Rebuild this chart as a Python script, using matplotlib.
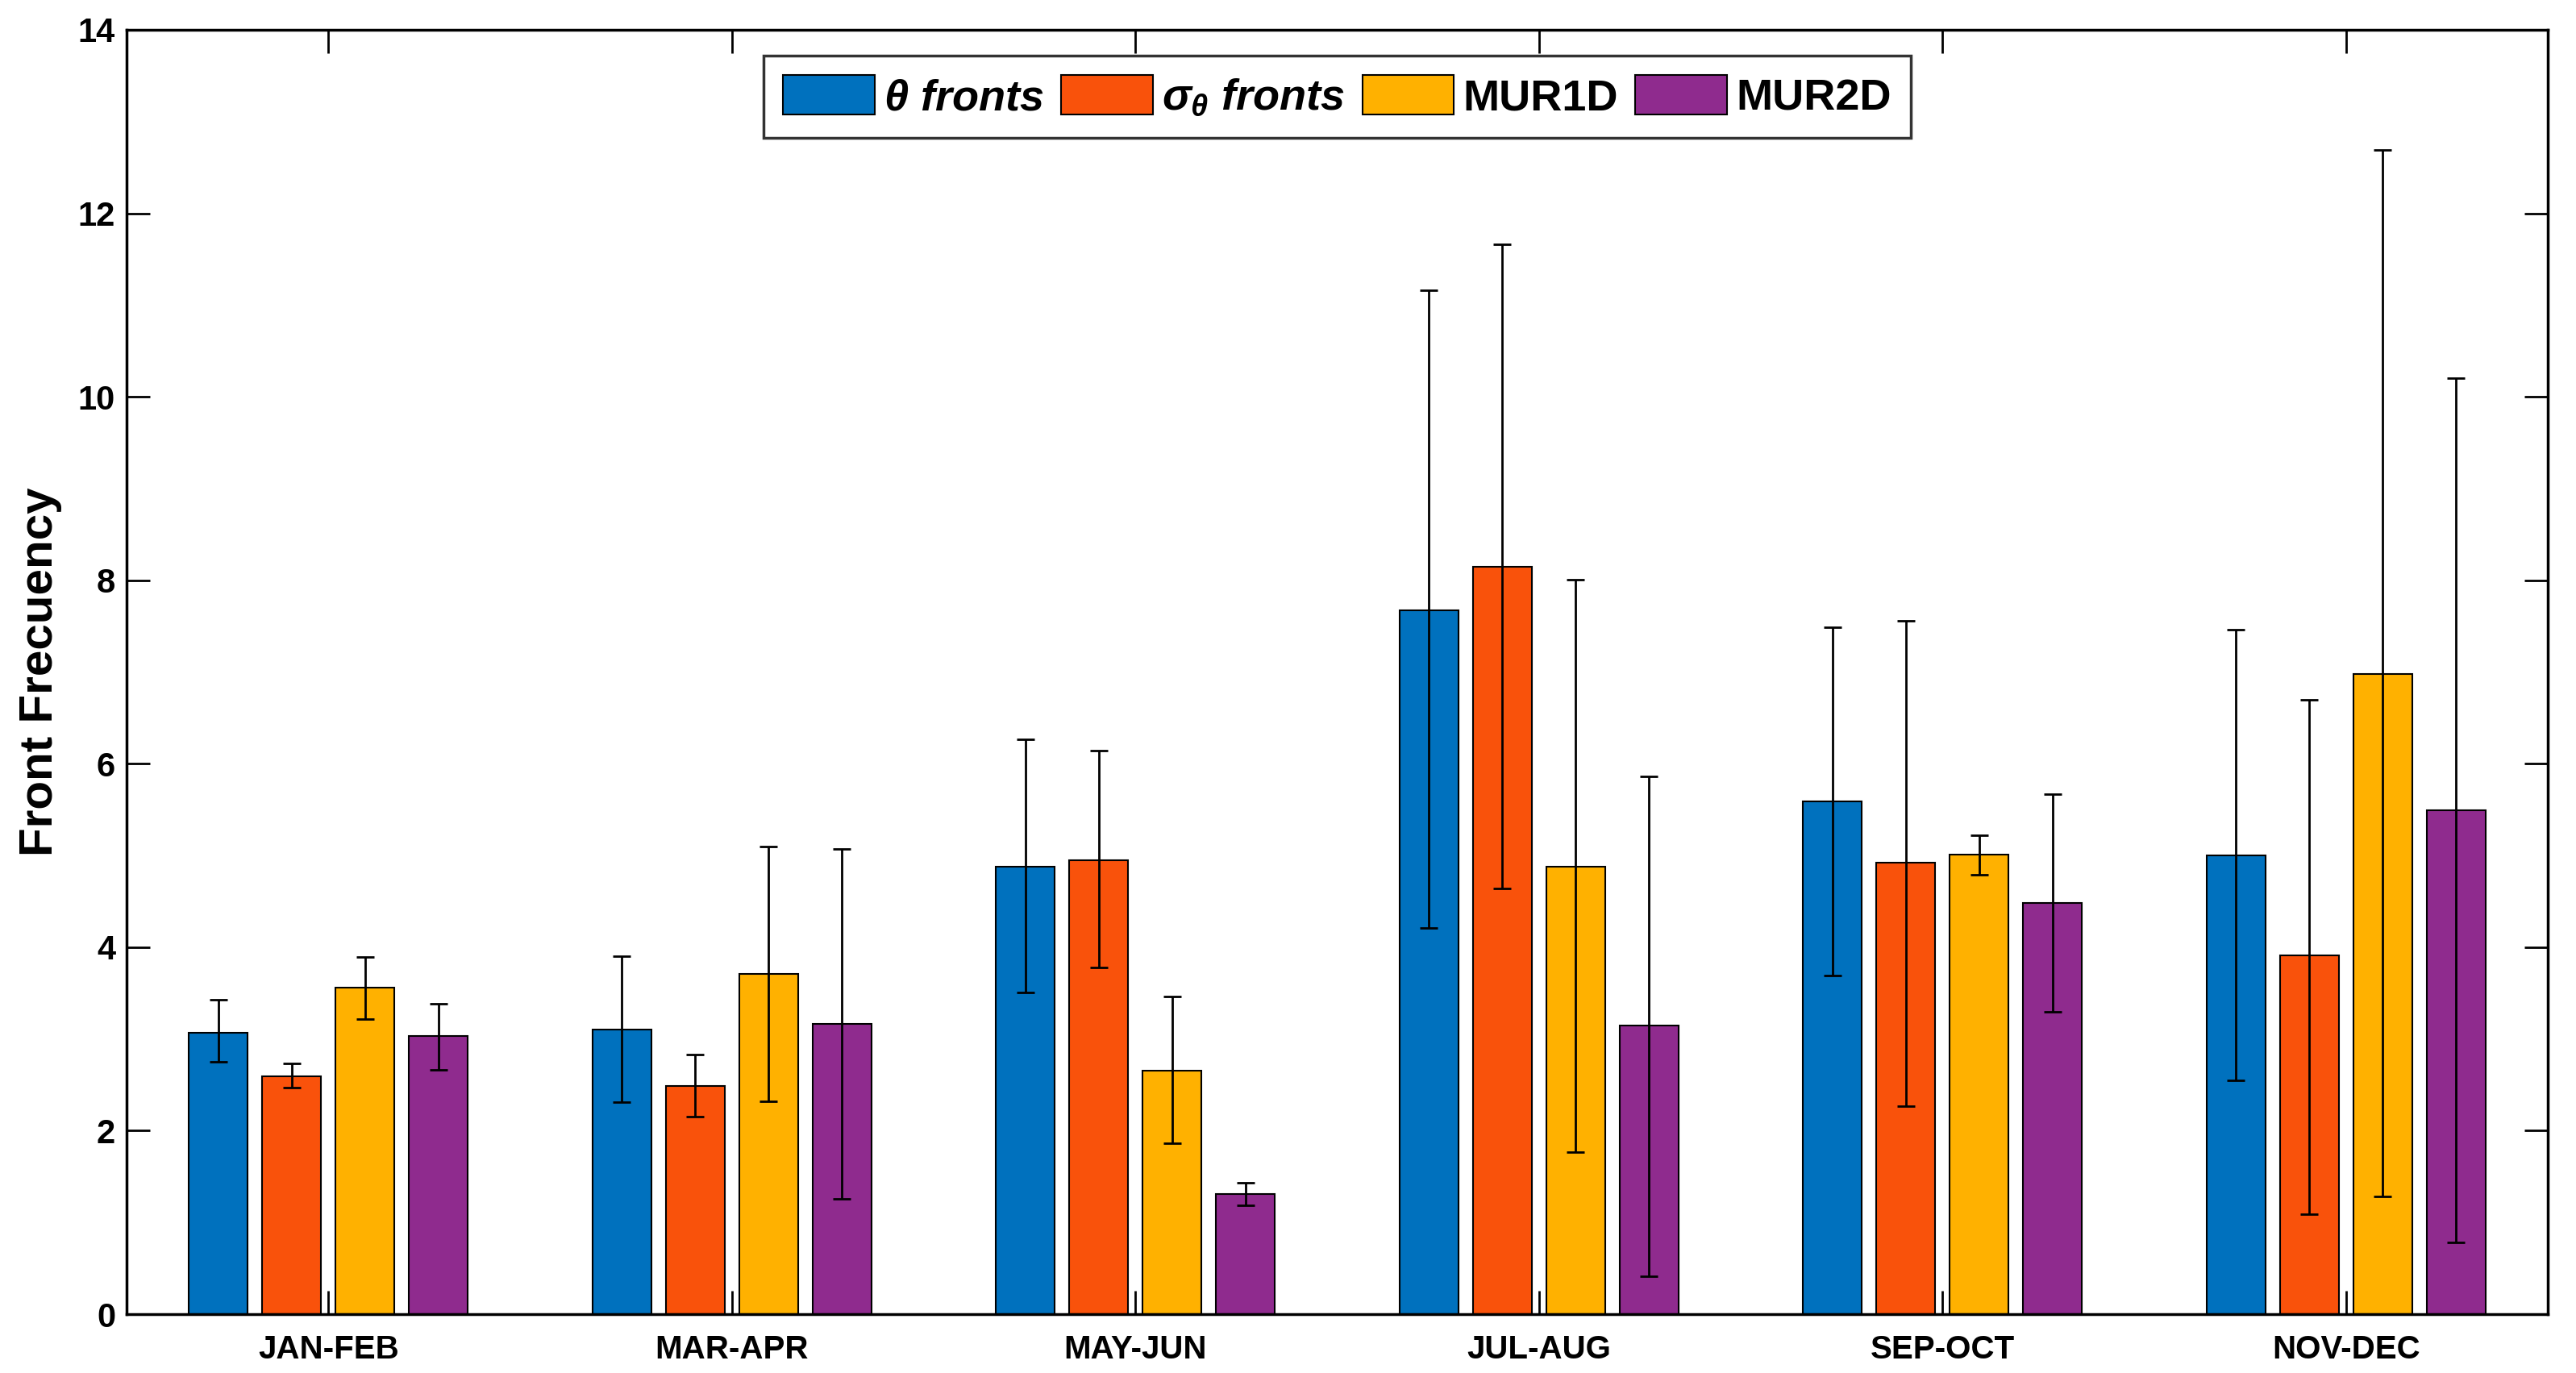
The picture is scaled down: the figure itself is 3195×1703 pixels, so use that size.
import numpy as np
import matplotlib
matplotlib.use("Agg")
import matplotlib.pyplot as plt

plt.rcParams['font.family'] = ['Liberation Sans', 'DejaVu Sans']
plt.rcParams['font.weight'] = 'bold'
plt.rcParams['mathtext.fontset'] = 'custom'
plt.rcParams['mathtext.it'] = 'Liberation Sans:italic'
plt.rcParams['mathtext.rm'] = 'Liberation Sans'

# season groups
seasons = ['JAN-FEB', 'MAR-APR', 'MAY-JUN', 'JUL-AUG', 'SEP-OCT', 'NOV-DEC']

# bar heights
theta_fronts = [3.07, 3.10, 4.88, 7.67, 5.59, 5.00]
sigma_fronts = [2.59, 2.49, 4.95, 8.15, 4.92, 3.91]
mur1d = [3.56, 3.71, 2.65, 4.88, 5.01, 6.98]
mur2d = [3.03, 3.16, 1.31, 3.15, 4.48, 5.49]

# error bar ends (upper / lower)
theta_hi = [3.43, 3.90, 6.27, 11.16, 7.49, 7.46]
theta_lo = [2.75, 2.31, 3.51, 4.21, 3.69, 2.55]
sigma_hi = [2.73, 2.83, 6.14, 11.66, 7.56, 6.70]
sigma_lo = [2.47, 2.15, 3.78, 4.64, 2.27, 1.09]
mur1d_hi = [3.89, 5.10, 3.46, 8.01, 5.22, 12.69]
mur1d_lo = [3.22, 2.32, 1.86, 1.77, 4.79, 1.28]
mur2d_hi = [3.38, 5.07, 1.43, 5.86, 5.67, 10.20]
mur2d_lo = [2.66, 1.26, 1.19, 0.41, 3.30, 0.78]

labels = [r'$\theta$ fronts', r'$\sigma_\theta$ fronts', 'MUR1D', 'MUR2D']
colors = ['#0071BE', '#F9520B', '#FFB100', '#8F2B8E']

series = [theta_fronts, sigma_fronts, mur1d, mur2d]
highs = [theta_hi, sigma_hi, mur1d_hi, mur2d_hi]
lows = [theta_lo, sigma_lo, mur1d_lo, mur2d_lo]

fig = plt.figure(figsize=(31.95, 17.03), dpi=100)
ax = fig.add_axes([157 / 3195, 1 - 1630 / 1703, (3160 - 157) / 3195, (1630 - 37) / 1703])

x = np.arange(1, len(seasons) + 1)
nb = len(series)
group_w = nb / (nb + 1.5)
pitch = group_w / nb
bar_w = pitch * 0.8

for i in range(nb):
    vals = np.array(series[i])
    xi = x - group_w / 2 + pitch * (i + 0.5)
    ax.bar(xi, vals, bar_w, color=colors[i], edgecolor='black', linewidth=1.5,
           label=labels[i], zorder=2)
    yerr = [vals - np.array(lows[i]), np.array(highs[i]) - vals]
    ax.errorbar(xi, vals, yerr=yerr, fmt='none', ecolor='black', elinewidth=2,
                capsize=8, capthick=2, zorder=3)

ax.set_xlim(0.5, 6.5)
ax.set_ylim(0, 14)
ax.set_xticks(x)
ax.set_xticklabels(seasons)
ax.set_yticks(np.arange(0, 15, 2))
ax.tick_params(axis='both', direction='in', length=21, width=2, top=True, right=True)
ax.tick_params(axis='x', labelsize=29, pad=18)
ax.tick_params(axis='y', labelsize=30, pad=10)
for s in ax.spines.values():
    s.set_linewidth(2.5)

ax.set_ylabel('Front Frecuency', fontsize=42, fontweight='bold', labelpad=14)

leg = ax.legend(loc='upper center', ncol=4, fontsize=39, frameon=True, fancybox=False,
                edgecolor='black', handlelength=2.1, handleheight=1.0,
                handletextpad=0.2, columnspacing=0.4, borderpad=0.45,
                bbox_to_anchor=(0.5, 0.98), borderaxespad=0)
leg.get_frame().set_linewidth(2.5)
leg.get_texts()[0].set_style('italic')
leg.get_texts()[1].set_style('italic')

fig.savefig('out.png', dpi=100)
